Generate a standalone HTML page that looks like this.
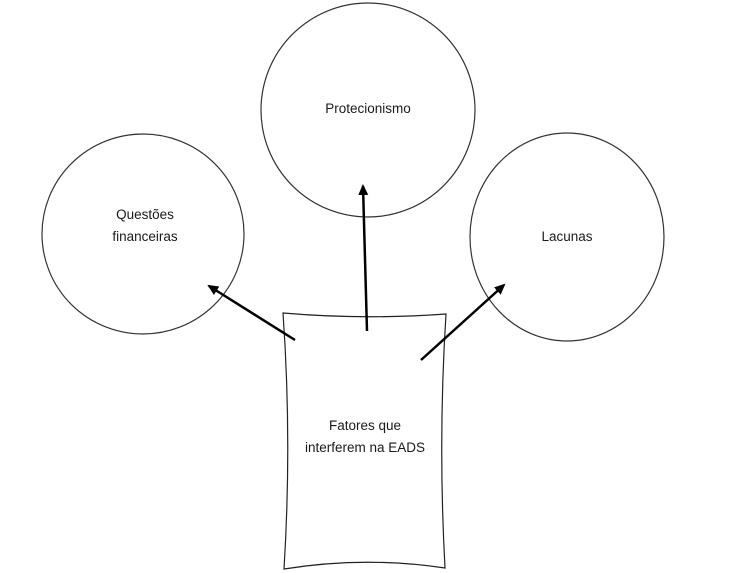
<!DOCTYPE html>
<html><head><meta charset="utf-8"><style>
html,body{margin:0;padding:0;background:#fff;}
svg{display:block}
text{font-family:"Liberation Sans",sans-serif;font-size:13.5px;fill:#1a1a1a;}
</style></head><body>
<svg width="729" height="573" viewBox="0 0 729 573" xmlns="http://www.w3.org/2000/svg">
<defs>
<marker id="a" markerWidth="12" markerHeight="12" refX="9" refY="6" orient="auto" markerUnits="userSpaceOnUse">
<path d="M0,1 L11,6 L0,11 z" fill="#000"/>
</marker>
</defs>
<g fill="none" stroke="#333" stroke-width="1.2">
<ellipse cx="143" cy="234" rx="101" ry="100"/>
<ellipse cx="368" cy="110" rx="107" ry="107"/>
<ellipse cx="567" cy="237" rx="97" ry="104"/>
<path d="M283,313 Q365,320 446,314 Q438,440 445,568 Q365,556 284,569 Q292,440 283,313 z" stroke="#222"/>
</g>
<g stroke="#000" stroke-width="2.5" fill="none">
<line x1="295" y1="340" x2="209" y2="286" marker-end="url(#a)"/>
<line x1="367" y1="331" x2="363" y2="186" marker-end="url(#a)"/>
<line x1="421" y1="360" x2="504" y2="285" marker-end="url(#a)"/>
</g>
<text x="368" y="113" text-anchor="middle">Protecionismo</text>
<text x="145" y="219" text-anchor="middle">Questões</text>
<text x="145" y="241" text-anchor="middle">financeiras</text>
<text x="567" y="241" text-anchor="middle">Lacunas</text>
<text x="365" y="430" text-anchor="middle">Fatores que</text>
<text x="365" y="452" text-anchor="middle">interferem na EADS</text>
</svg>
</body></html>
